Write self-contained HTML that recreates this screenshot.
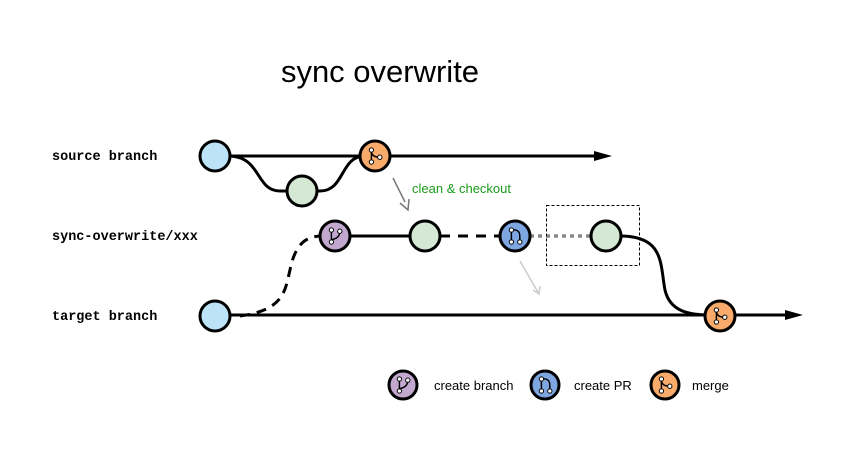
<!DOCTYPE html>
<html><head><meta charset="utf-8"><style>
html,body{margin:0;padding:0;background:#fff;width:861px;height:453px;overflow:hidden}
svg{display:block}
.lbl{font-family:"Liberation Mono",monospace;font-weight:bold;font-size:13.5px;fill:#000}
.t{font-family:"Liberation Sans",sans-serif;font-size:13px;fill:#000}
</style></head><body>
<svg width="861" height="453" viewBox="0 0 861 453" xmlns="http://www.w3.org/2000/svg">
<defs>
<marker id="ah" markerWidth="18" markerHeight="10" refX="0" refY="5" orient="auto" markerUnits="userSpaceOnUse"><path d="M0,0 L18,5 L0,10z" fill="#000"/></marker>
<g id="mergeI"><line x1="-3" y1="-5" x2="-3" y2="5" stroke="#000" stroke-width="1.2"/><path d="M-3,-3 Q-2,1 4,1" fill="none" stroke="#000" stroke-width="1.2"/><circle cx="-3" cy="-5" r="1.8" fill="#fff" stroke="#000" stroke-width="0.8"/><circle cx="-3" cy="5" r="1.8" fill="#fff" stroke="#000" stroke-width="0.8"/><circle cx="4" cy="1" r="1.8" fill="#fff" stroke="#000" stroke-width="0.8"/></g>
<g id="branchI"><line x1="-3" y1="-5" x2="-3" y2="5" stroke="#000" stroke-width="1.2"/><path d="M4,-4 Q4,2 -3,3" fill="none" stroke="#000" stroke-width="1.2"/><circle cx="-3" cy="-5" r="1.8" fill="#fff" stroke="#000" stroke-width="0.8"/><circle cx="-3" cy="5" r="1.8" fill="#fff" stroke="#000" stroke-width="0.8"/><circle cx="4" cy="-4" r="1.8" fill="#fff" stroke="#000" stroke-width="0.8"/></g>
<g id="prI"><path d="M-3,5 L-3,-5 Q4,-6 4,0 L4,5" fill="none" stroke="#000" stroke-width="1.2"/><circle cx="-3" cy="-5" r="1.8" fill="#fff" stroke="#000" stroke-width="0.8"/><circle cx="-3" cy="5" r="1.8" fill="#fff" stroke="#000" stroke-width="0.8"/><circle cx="4" cy="5" r="1.8" fill="#fff" stroke="#000" stroke-width="0.8"/></g>
</defs>
<text x="380" y="82" text-anchor="middle" font-family="Liberation Sans,sans-serif" font-size="31" fill="#000">sync overwrite</text>
<text x="52" y="160" class="lbl">source branch</text>
<text x="52" y="240" class="lbl">sync-overwrite/xxx</text>
<text x="52" y="320" class="lbl">target branch</text>
<line x1="215" y1="156" x2="594" y2="156" stroke="#000" stroke-width="3" marker-end="url(#ah)"/>
<path d="M228,156 C262,156 255,191 280,191 L320,191 C345,191 340,156 365,156" fill="none" stroke="#000" stroke-width="3"/>
<path d="M240,316 C285,310 285,290 290,270 C295,245 305,236 322,236" fill="none" stroke="#000" stroke-width="3" stroke-dasharray="10,7"/>
<line x1="350" y1="236" x2="412" y2="236" stroke="#000" stroke-width="3"/>
<line x1="440" y1="236" x2="502" y2="236" stroke="#000" stroke-width="3" stroke-dasharray="10,8"/>
<line x1="530" y1="236" x2="592" y2="236" stroke="#888" stroke-width="3.5" stroke-dasharray="4,4"/>
<rect x="546.5" y="205.5" width="93" height="60" fill="none" stroke="#000" stroke-width="1" stroke-dasharray="3,2"/>
<path d="M620,236 C665,236 660,265 665,290 C670,312 690,315 710,315" fill="none" stroke="#000" stroke-width="3"/>
<line x1="215" y1="315" x2="785" y2="315" stroke="#000" stroke-width="3" marker-end="url(#ah)"/>
<line x1="393" y1="178" x2="405" y2="202" stroke="#777" stroke-width="1.5"/>
<path d="M400,203 L408,210 L409,199" fill="none" stroke="#777" stroke-width="1.5"/>
<text x="412" y="193" font-family="Liberation Sans,sans-serif" font-size="13" fill="#1a9a1a">clean &amp; checkout</text>
<line x1="520" y1="261" x2="539" y2="294" stroke="#ccc" stroke-width="1.5"/>
<path d="M533,290 L539,294 L540,286" fill="none" stroke="#ccc" stroke-width="1.5"/>
<g stroke="#000" stroke-width="3">
<circle cx="215" cy="156" r="15" fill="#bde3f8"/>
<circle cx="302" cy="191" r="15" fill="#d5e8d4"/>
<circle cx="375" cy="156" r="15" fill="#f8ab6b"/>
<circle cx="335" cy="236" r="15" fill="#c2a7cf"/>
<circle cx="425" cy="236" r="15" fill="#d5e8d4"/>
<circle cx="515" cy="236" r="15" fill="#7ea6e0"/>
<circle cx="606" cy="236" r="15" fill="#d5e8d4"/>
<circle cx="215" cy="316" r="15" fill="#bde3f8"/>
<circle cx="720" cy="316" r="15" fill="#f8ab6b"/>
<circle cx="403" cy="385" r="14" fill="#c2a7cf"/>
<circle cx="545" cy="385" r="14" fill="#7ea6e0"/>
<circle cx="665" cy="385" r="14" fill="#f8ab6b"/>
</g>
<use href="#mergeI" transform="translate(375,156) scale(1.2)"/>
<use href="#branchI" transform="translate(335,236) scale(1.2)"/>
<use href="#prI" transform="translate(515,236) scale(1.2)"/>
<use href="#mergeI" transform="translate(720,316) scale(1.2)"/>
<use href="#branchI" transform="translate(403,385) scale(1.2)"/>
<use href="#prI" transform="translate(545,385) scale(1.2)"/>
<use href="#mergeI" transform="translate(665,385) scale(1.2)"/>
<text x="434" y="390" class="t">create branch</text>
<text x="574" y="390" class="t">create PR</text>
<text x="692" y="390" class="t">merge</text>
</svg>
</body></html>
